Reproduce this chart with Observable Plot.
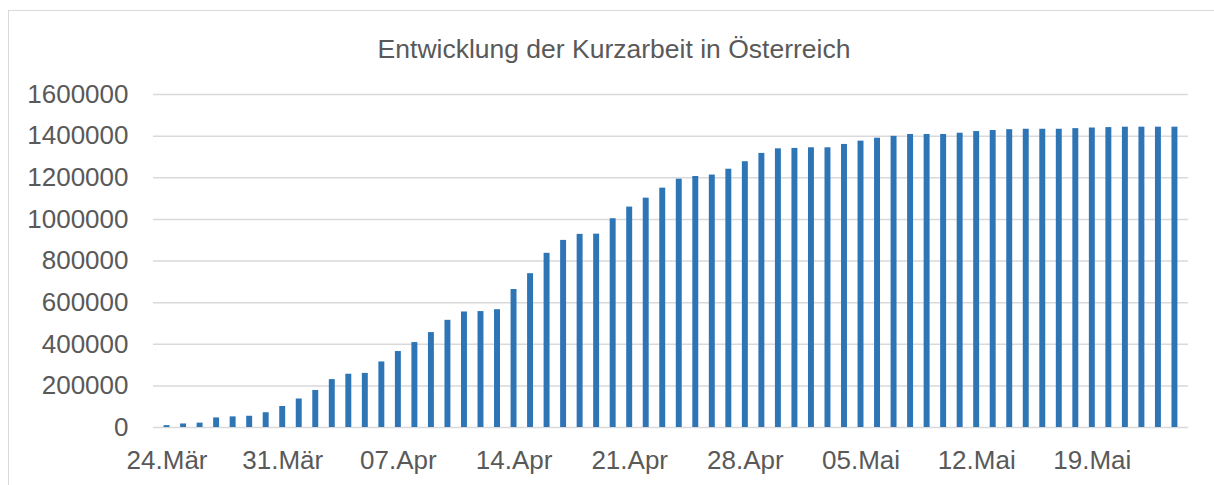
<!DOCTYPE html>
<html>
<head>
<meta charset="utf-8">
<script src="https://cdn.jsdelivr.net/npm/d3@7"></script>
<script src="https://cdn.jsdelivr.net/npm/@observablehq/plot@0.6"></script>
<style>
  html, body { margin: 0; padding: 0; background: #ffffff; overflow: hidden; }
  #wrap { position: relative; width: 1214px; height: 485px; overflow: hidden; }
  #border { position: absolute; left: 8px; top: 10px; width: 1400px; height: 700px;
            border-left: 1.5px solid #d9d9d9; border-top: 1.5px solid #d9d9d9; box-sizing: border-box; }
  #chart { position: absolute; left: 0; top: 0; }
</style>
</head>
<body>
<div id="wrap"><div id="border"></div><div id="chart"></div></div>
<script>
const title = "Entwicklung der Kurzarbeit in Österreich";

const dates = [
  "24.Mär","25.Mär","26.Mär","27.Mär","28.Mär","29.Mär","30.Mär","31.Mär",
  "01.Apr","02.Apr","03.Apr","04.Apr","05.Apr","06.Apr","07.Apr","08.Apr","09.Apr","10.Apr",
  "11.Apr","12.Apr","13.Apr","14.Apr","15.Apr","16.Apr","17.Apr","18.Apr","19.Apr","20.Apr",
  "21.Apr","22.Apr","23.Apr","24.Apr","25.Apr","26.Apr","27.Apr","28.Apr","29.Apr","30.Apr",
  "01.Mai","02.Mai","03.Mai","04.Mai","05.Mai","06.Mai","07.Mai","08.Mai","09.Mai","10.Mai",
  "11.Mai","12.Mai","13.Mai","14.Mai","15.Mai","16.Mai","17.Mai","18.Mai","19.Mai","20.Mai",
  "21.Mai","22.Mai","23.Mai","24.Mai"
];

const values = [
  9000, 17000, 21000, 46000, 51000, 54000, 71000, 101000, 137000, 178000,
  230000, 256000, 260000, 315000, 365000, 408000, 456000, 515000, 555000, 557000,
  566000, 663000, 739000, 837000, 899000, 928000, 929000, 1003000, 1059000, 1102000,
  1150000, 1193000, 1206000, 1213000, 1241000, 1277000, 1317000, 1339000, 1341000, 1344000,
  1344000, 1360000, 1376000, 1390000, 1399000, 1408000, 1408000, 1408000, 1414000, 1422000,
  1427000, 1431000, 1433000, 1433000, 1433000, 1436000, 1439000, 1441000, 1443000, 1443000,
  1443000, 1443000
];

const xTicks = ["24.Mär","31.Mär","07.Apr","14.Apr","21.Apr","28.Apr","05.Mai","12.Mai","19.Mai"];
const yTicks = [0, 200000, 400000, 600000, 800000, 1000000, 1200000, 1400000, 1600000];

const data = dates.map((d, i) => ({date: d, value: values[i]}));

const chart = Plot.plot({
  width: 1214,
  height: 485,
  marginLeft: 153,
  marginRight: 26,
  marginTop: 94,
  marginBottom: 58,
  style: {fontFamily: "'Liberation Sans', Arial, sans-serif", color: "#595959", background: "transparent"},
  x: {type: "band", domain: dates, padding: 0.64, align: 0.5},
  y: {domain: [0, 1600000]},
  marks: [
    Plot.gridY(yTicks, {stroke: "#d9d9d9", strokeOpacity: 1, strokeWidth: 1.5}),
    Plot.barY(data, {x: "date", y: "value", fill: "#2E75B6"}),
    Plot.axisY(yTicks, {tickSize: 0, tickPadding: 25, tickFormat: d3.format("d"), fontSize: 26, label: null}),
    Plot.axisX(xTicks, {tickSize: 0, tickPadding: 23, fontSize: 26, label: null}),
    Plot.text([title], {frameAnchor: "top", lineAnchor: "bottom", dy: -37, dx: -57, fontSize: 26.5, fill: "#595959"})
  ]
});

document.getElementById("chart").appendChild(chart);
</script>
</body>
</html>
